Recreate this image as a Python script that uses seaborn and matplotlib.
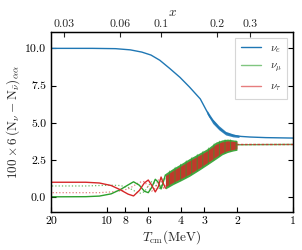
import numpy as np
import matplotlib
matplotlib.use("Agg")
import matplotlib.pyplot as plt
from matplotlib.lines import Line2D
import seaborn as sns

# temperature grid (MeV) and values
T_blue = [20, 12, 9, 7.5, 6.5, 5.8, 5.2, 4.6, 4.05, 3.6, 3.15, 2.8, 2.5, 2.3, 2.1, 1.9, 1.7, 1.4, 1.0]
nu_e = [10.0, 10.0, 9.98, 9.9, 9.75, 9.55, 9.2, 8.65, 8.05, 7.4, 6.6, 5.4, 4.65, 4.3, 4.15, 4.08, 4.04, 4.0, 3.97]

T_band_e = [2.9, 2.7, 2.5, 2.3, 2.1, 1.95]
nu_e_lo = [5.6, 4.95, 4.52, 4.18, 4.05, 4.01]
nu_e_hi = [5.85, 5.25, 4.8, 4.42, 4.25, 4.15]

T_osc = [20, 13, 11, 9.5, 8.5, 7.7, 7.2, 6.7, 6.3, 6.0, 5.75, 5.5, 5.3, 5.12, 4.97, 4.85]
nu_tau = [1.0, 1.0, 0.95, 0.78, 0.5, 0.2, 0.08, 0.45, 0.95, 1.15, 0.8, 0.35, 0.7, 1.35, 0.9, 0.6]
nu_mu = [0.02, 0.03, 0.07, 0.22, 0.5, 0.82, 1.03, 0.8, 0.4, 0.3, 0.65, 1.2, 1.0, 0.55, 1.05, 1.5]
nu_mu_bar = [0.75, 0.75, 0.78, 0.8, 0.78, 0.65, 0.45, 0.25, 0.35, 0.75, 1.05, 0.9, 0.5, 0.7, 1.3, 1.2]
nu_tau_bar = [0.3, 0.3, 0.3, 0.35, 0.42, 0.55, 0.75, 1.0, 1.05, 0.7, 0.4, 0.6, 1.15, 1.1, 0.6, 0.8]

# fast-oscillation envelope
T_band = [4.85, 4.4, 4.0, 3.6, 3.2, 2.9, 2.6, 2.4, 2.25, 2.1, 2.0]
band_hi = [1.6, 1.95, 2.25, 2.6, 2.95, 3.25, 3.7, 3.85, 3.9, 3.85, 3.8]
band_lo = [0.55, 0.85, 1.1, 1.4, 1.8, 2.15, 2.55, 2.85, 3.0, 3.1, 3.15]
tau_hi = [1.45, 1.8, 2.1, 2.45, 2.8, 3.1, 3.55, 3.72, 3.78, 3.75, 3.72]
tau_lo = [0.7, 1.0, 1.25, 1.55, 1.95, 2.3, 2.7, 2.98, 3.12, 3.2, 3.25]

T_late = [2.0, 1.5, 1.0]
mu_late = [3.52, 3.53, 3.54]
tau_late = [3.6, 3.6, 3.6]

x_ticks = [0.03, 0.06, 0.1, 0.2, 0.3]
T_ticks = [20, 10, 8, 6, 4, 3, 2, 1]
y_ticks = [0.0, 2.5, 5.0, 7.5, 10.0]

me = 0.511
blue, green, red = "#1f77b4", "#2ca02c", "#d62728"

sns.set_style("ticks")
plt.rcParams.update({
    "font.family": "serif",
    "font.serif": ["cmr10", "DejaVu Serif"],
    "mathtext.fontset": "cm",
    "axes.formatter.use_mathtext": True,
    "axes.linewidth": 0.9,
    "axes.edgecolor": "black",
    "hatch.linewidth": 0.8,
})

fig = plt.figure(figsize=(3.02, 2.5), dpi=100)
ax = fig.add_axes([0.169, 0.152, 0.801, 0.72])
ax.set_xscale("log")

# slow part of the oscillations
sns.lineplot(x=T_osc, y=nu_mu_bar, ax=ax, color=green, lw=0.9, ls=":", alpha=0.7)
sns.lineplot(x=T_osc, y=nu_tau_bar, ax=ax, color=red, lw=0.9, ls=":", alpha=0.6)
sns.lineplot(x=T_osc, y=nu_mu, ax=ax, color=green, lw=1.0)
sns.lineplot(x=T_osc, y=nu_tau, ax=ax, color=red, lw=1.0)

# fast oscillation band
ax.fill_between(T_band, band_lo, band_hi, color=green, lw=0, alpha=0.9)
ax.fill_between(T_band, tau_lo, tau_hi, color=red, lw=0, alpha=0.85)
ax.fill_between(T_band, band_lo, band_hi, facecolor="none", edgecolor=green,
                hatch="|||", lw=0, alpha=0.6)

sns.lineplot(x=T_late, y=mu_late, ax=ax, color=green, lw=1.0, alpha=0.8)
sns.lineplot(x=T_late, y=tau_late, ax=ax, color=red, lw=1.0, ls=(0, (2, 1)), alpha=0.8)

# electron flavour
ax.fill_between(T_band_e, nu_e_lo, nu_e_hi, color=blue, lw=0, alpha=0.9)
sns.lineplot(x=T_blue, y=nu_e, ax=ax, color=blue, lw=1.0)

ax.set_xlim(20, 1)
ax.set_ylim(-1.0, 11.1)
ax.set_xticks(T_ticks)
ax.set_xticklabels([str(t) for t in T_ticks])
ax.xaxis.set_minor_locator(matplotlib.ticker.NullLocator())
ax.set_yticks(y_ticks)
ax.set_yticklabels([f"{v:.1f}" for v in y_ticks])
ax.tick_params(direction="in", length=3.5, width=0.8, labelsize=8.5,
               right=True, top=False, colors="black")
ax.set_xlabel(r"$T_{\rm cm}(\mathrm{MeV})$", fontsize=9.5, labelpad=1)
ax.set_ylabel(r"$100\times 6\,(\mathrm{N}_\nu-\mathrm{N}_{\bar\nu})_{\alpha\alpha}$",
              fontsize=9.5, labelpad=2)

top = ax.twiny()
top.set_xscale("log")
top.set_xlim(me / 20, me / 1)
top.set_xticks(x_ticks)
top.set_xticklabels([str(v) for v in x_ticks])
top.xaxis.set_minor_locator(matplotlib.ticker.NullLocator())
top.tick_params(direction="in", length=3.5, width=0.8, labelsize=8.5, pad=2)
top.set_xlabel(r"$x$", fontsize=9.5, labelpad=3)

handles = [Line2D([], [], color=blue, lw=1.0),
           Line2D([], [], color=green, lw=1.0, alpha=0.6),
           Line2D([], [], color=red, lw=1.0, alpha=0.6)]
labels = [r"$\nu_e$", r"$\nu_\mu$", r"$\nu_\tau$"]
leg = ax.legend(handles, labels, loc="upper right", fontsize=8, fancybox=False,
                frameon=True, edgecolor="#cccccc", handlelength=1.8,
                borderpad=0.5, labelspacing=0.6, handletextpad=0.8)
leg.get_frame().set_linewidth(0.8)

fig.savefig("out.png", dpi=100)
